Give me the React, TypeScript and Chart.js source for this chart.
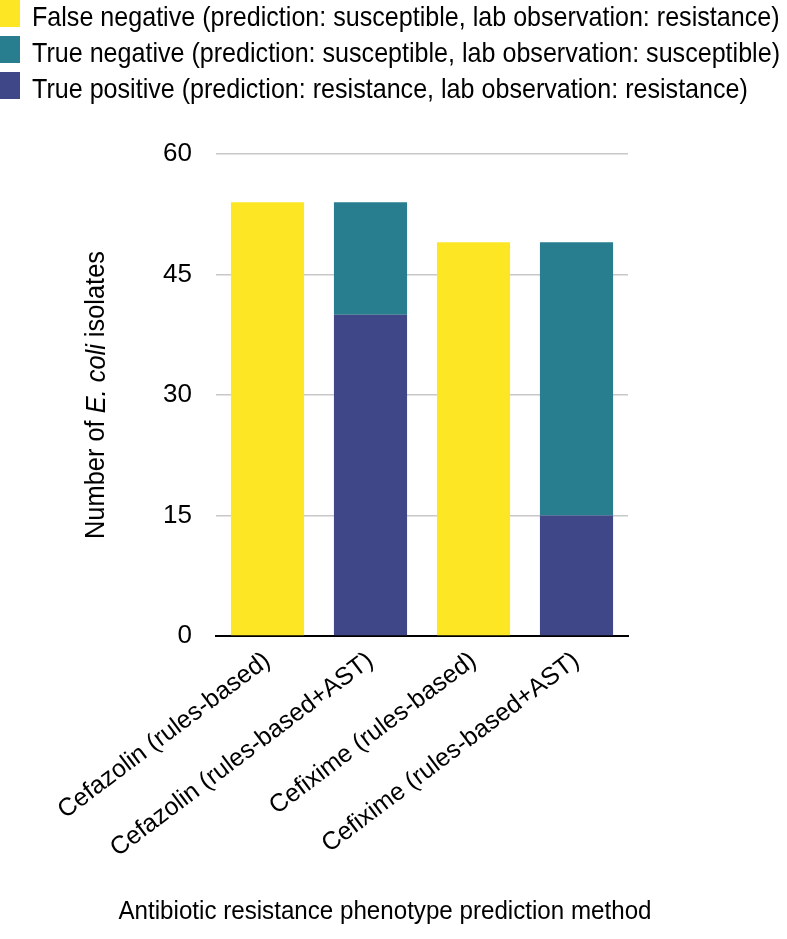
import React, { useEffect, useRef } from "react";
import { Chart, registerables } from "chart.js";

Chart.register(...registerables);

// ---- data ----
const categories = [
  "Cefazolin (rules-based)",
  "Cefazolin (rules-based+AST)",
  "Cefixime (rules-based)",
  "Cefixime (rules-based+AST)",
];
const truePositive = [null, 40, null, 15];
const trueNegative = [null, 14, null, 34];
const falseNegative = [54, null, 49, null];
const seriesLabels = [
  "True positive (prediction: resistance, lab observation: resistance)",
  "True negative (prediction: susceptible, lab observation: susceptible)",
  "False negative (prediction: susceptible, lab observation: resistance)",
];
const seriesColors = ["#404788", "#287D8E", "#FDE725"];
const yMin = 0;
const yMax = 60;
const yStep = 15;
const xTitle = "Antibiotic resistance phenotype prediction method";
const yTitleParts = [
  { text: "Number of ", italic: false },
  { text: "E. coli", italic: true },
  { text: " isolates", italic: false },
];

const FONT = "'Liberation Sans', Arial, Helvetica, sans-serif";

const customPlugin = {
  id: "customText",
  afterDraw(chart: any) {
    const ctx = chart.ctx as CanvasRenderingContext2D;
    const ds = chart.data.datasets.slice().reverse();
    // legend
    ctx.save();
    ctx.font = `28px ${FONT}`;
    let maxW = 0;
    ds.forEach((d: any) => {
      maxW = Math.max(maxW, ctx.measureText(d.label).width);
    });
    const sx = Math.min(1, 748 / maxW);
    ds.forEach((d: any, i: number) => {
      const top = i * 36;
      ctx.fillStyle = d.backgroundColor;
      ctx.fillRect(0, top, 20, 27);
      ctx.save();
      ctx.translate(32, top + 26);
      ctx.scale(sx, 1);
      ctx.fillStyle = "#000";
      ctx.textAlign = "left";
      ctx.textBaseline = "alphabetic";
      ctx.fillText(d.label, 0, 0);
      ctx.restore();
    });
    ctx.restore();

    // y title
    const area = chart.chartArea;
    ctx.save();
    ctx.translate(97, (area.top + area.bottom) / 2);
    ctx.rotate(-Math.PI / 2);
    ctx.fillStyle = "#000";
    ctx.textBaseline = "middle";
    ctx.textAlign = "left";
    const fontFor = (it: boolean) => `${it ? "italic " : ""}27px ${FONT}`;
    let total = 0;
    yTitleParts.forEach((p) => {
      ctx.font = fontFor(p.italic);
      total += ctx.measureText(p.text).width;
    });
    const ys = Math.min(1, 288 / total);
    ctx.scale(ys, 1);
    let x = -total / 2;
    yTitleParts.forEach((p) => {
      ctx.font = fontFor(p.italic);
      ctx.fillText(p.text, x, 0);
      x += ctx.measureText(p.text).width;
    });
    ctx.restore();

    // x title
    ctx.save();
    ctx.font = `26px ${FONT}`;
    const xw = ctx.measureText(xTitle).width;
    const xs = Math.min(1, 533 / xw);
    ctx.translate(385, 919);
    ctx.scale(xs, 1);
    ctx.fillStyle = "#000";
    ctx.textAlign = "center";
    ctx.textBaseline = "alphabetic";
    ctx.fillText(xTitle, 0, 0);
    ctx.restore();
  },
};

export default function App() {
  const ref = useRef<HTMLCanvasElement | null>(null);
  useEffect(() => {
    if (!ref.current) return;
    const chart = new Chart(ref.current, {
      type: "bar",
      data: {
        labels: categories,
        datasets: [
          { label: seriesLabels[0], data: truePositive, backgroundColor: seriesColors[0] },
          { label: seriesLabels[1], data: trueNegative, backgroundColor: seriesColors[1] },
          { label: seriesLabels[2], data: falseNegative, backgroundColor: seriesColors[2] },
        ] as any,
      },
      options: {
        responsive: false,
        animation: false,
        maintainAspectRatio: false,
        layout: { padding: { top: 154, right: 159, bottom: 0, left: 0 } },
        datasets: { bar: { barPercentage: 0.71, categoryPercentage: 1, borderWidth: 0 } },
        plugins: {
          legend: { display: false },
          tooltip: { enabled: false },
          title: { display: false },
        },
        scales: {
          x: {
            stacked: true,
            grid: { display: false, drawTicks: false },
            border: { display: true, color: "#000", width: 2 },
            ticks: {
              autoSkip: false,
              minRotation: 37,
              maxRotation: 37,
              padding: 10,
              color: "#000",
              font: { family: FONT, size: 25 },
            },
            afterFit: (s: any) => {
              s.height = 939 - 636;
            },
          },
          y: {
            stacked: true,
            min: yMin,
            max: yMax,
            grid: {
              drawTicks: false,
              color: (c: any) => (c.tick && c.tick.value === 0 ? "rgba(0,0,0,0)" : "#C8C8C8"),
              lineWidth: 1.5,
            },
            border: { display: false },
            ticks: {
              stepSize: yStep,
              padding: 24,
              color: "#000",
              font: { family: FONT, size: 26 },
            },
            afterFit: (s: any) => {
              s.width = 216;
            },
          },
        },
      } as any,
      plugins: [customPlugin],
    });
    return () => chart.destroy();
  }, []);
  return (
    <div style={{ position: "absolute", left: 0, top: 0, width: 787, height: 939, background: "#fff" }}>
      <canvas ref={ref} width={787} height={939} style={{ display: "block" }} />
    </div>
  );
}
